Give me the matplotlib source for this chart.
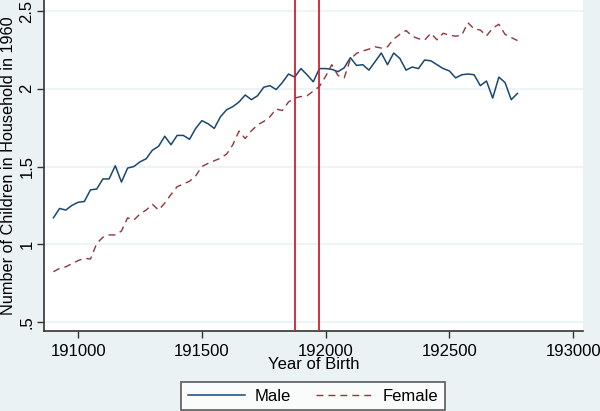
import matplotlib
matplotlib.use("Agg")
import matplotlib.pyplot as plt
import numpy as np

# quarterly birth cohorts, coded as year*100 (190900 = 1909 Q1, step 25)
year_of_birth = np.arange(190900, 192776, 25)

male = [1.17, 1.23, 1.22, 1.25, 1.27, 1.275, 1.35, 1.355, 1.42, 1.42,
        1.505, 1.40, 1.49, 1.50, 1.53, 1.55, 1.605, 1.63, 1.695, 1.64,
        1.70, 1.70, 1.675, 1.745, 1.795, 1.775, 1.745, 1.82, 1.865, 1.885,
        1.915, 1.96, 1.93, 1.955, 2.01, 2.02, 1.995, 2.04, 2.095, 2.075,
        2.13, 2.09, 2.045, 2.13, 2.13, 2.125, 2.11, 2.135, 2.20, 2.15,
        2.155, 2.12, 2.175, 2.23, 2.155, 2.23, 2.195, 2.12, 2.14, 2.13,
        2.185, 2.18, 2.155, 2.13, 2.115, 2.07, 2.09, 2.095, 2.09, 2.02,
        2.05, 1.94, 2.075, 2.04, 1.93, 1.97]

female = [0.823, 0.845, 0.855, 0.875, 0.895, 0.91, 0.905, 1.005, 1.045, 1.06,
          1.06, 1.085, 1.17, 1.155, 1.195, 1.22, 1.257, 1.22, 1.265, 1.32,
          1.37, 1.388, 1.405, 1.44, 1.50, 1.52, 1.537, 1.553, 1.58, 1.64,
          1.728, 1.68, 1.73, 1.768, 1.79, 1.82, 1.87, 1.86, 1.915, 1.94,
          1.95, 1.955, 1.985, 2.015, 2.08, 2.155, 2.085, 2.07, 2.19, 2.228,
          2.243, 2.255, 2.27, 2.262, 2.27, 2.32, 2.35, 2.375, 2.338, 2.322,
          2.313, 2.357, 2.315, 2.357, 2.345, 2.338, 2.345, 2.425, 2.385, 2.378,
          2.34, 2.39, 2.415, 2.35, 2.33, 2.31]

cutoffs = [191877, 191975]
xticks = [191000, 191500, 192000, 192500, 193000]
yticks = [0.5, 1, 1.5, 2, 2.5]
ytick_labels = [".5", "1", "1.5", "2", "2.5"]

bg = "#EAF2F3"
plt.rcParams["font.family"] = ["Liberation Sans", "DejaVu Sans"]

fig = plt.figure(figsize=(6, 4.11), dpi=100, facecolor=bg)
ax = fig.add_axes([44 / 600, 1 - 331 / 411, (583 - 44) / 600, 331 / 411])
ax.set_facecolor("white")

for yv in yticks:
    ax.axhline(yv, color=bg, lw=1.2, zorder=0)

ax.plot(year_of_birth, male, color="#1A476F", lw=1.1, label="Male", zorder=3)
ax.plot(year_of_birth, female, color="#90353B", lw=1.0, ls=(0, (5, 3.6)),
        label="Female", zorder=3)
for c in cutoffs:
    ax.axvline(c, color="#CC2233", lw=1.3, zorder=4)

ax.set_xlim(190862, 193040)
ax.set_ylim(0.442, 2.571)
ax.set_xticks(xticks)
ax.set_xticklabels([str(t) for t in xticks], fontsize=12)
ax.set_yticks(yticks)
ax.set_yticklabels(ytick_labels, fontsize=12, rotation=90, va="center")
ax.tick_params(axis="both", direction="out", length=5, width=1, color="#333333", pad=2)
ax.tick_params(axis="x", pad=4)

for s in ["top", "right"]:
    ax.spines[s].set_visible(False)
for s in ["left", "bottom"]:
    ax.spines[s].set_color("#333333")
    ax.spines[s].set_linewidth(1.2)

ax.set_xlabel("Year of Birth", fontsize=12, labelpad=-1)
ax.set_ylabel("Number of Children in Household in 1960", fontsize=11.7, labelpad=2)

leg = fig.legend(loc="center", bbox_to_anchor=(313 / 600, 1 - 396 / 411), ncol=2,
                 fontsize=12, frameon=True, fancybox=False, handlelength=3.45,
                 columnspacing=1.5, borderpad=0.4, handletextpad=0.55)
leg.get_frame().set_edgecolor("#333333")
leg.get_frame().set_linewidth(1.2)

fig.savefig("out.png", dpi=100, facecolor=bg)
